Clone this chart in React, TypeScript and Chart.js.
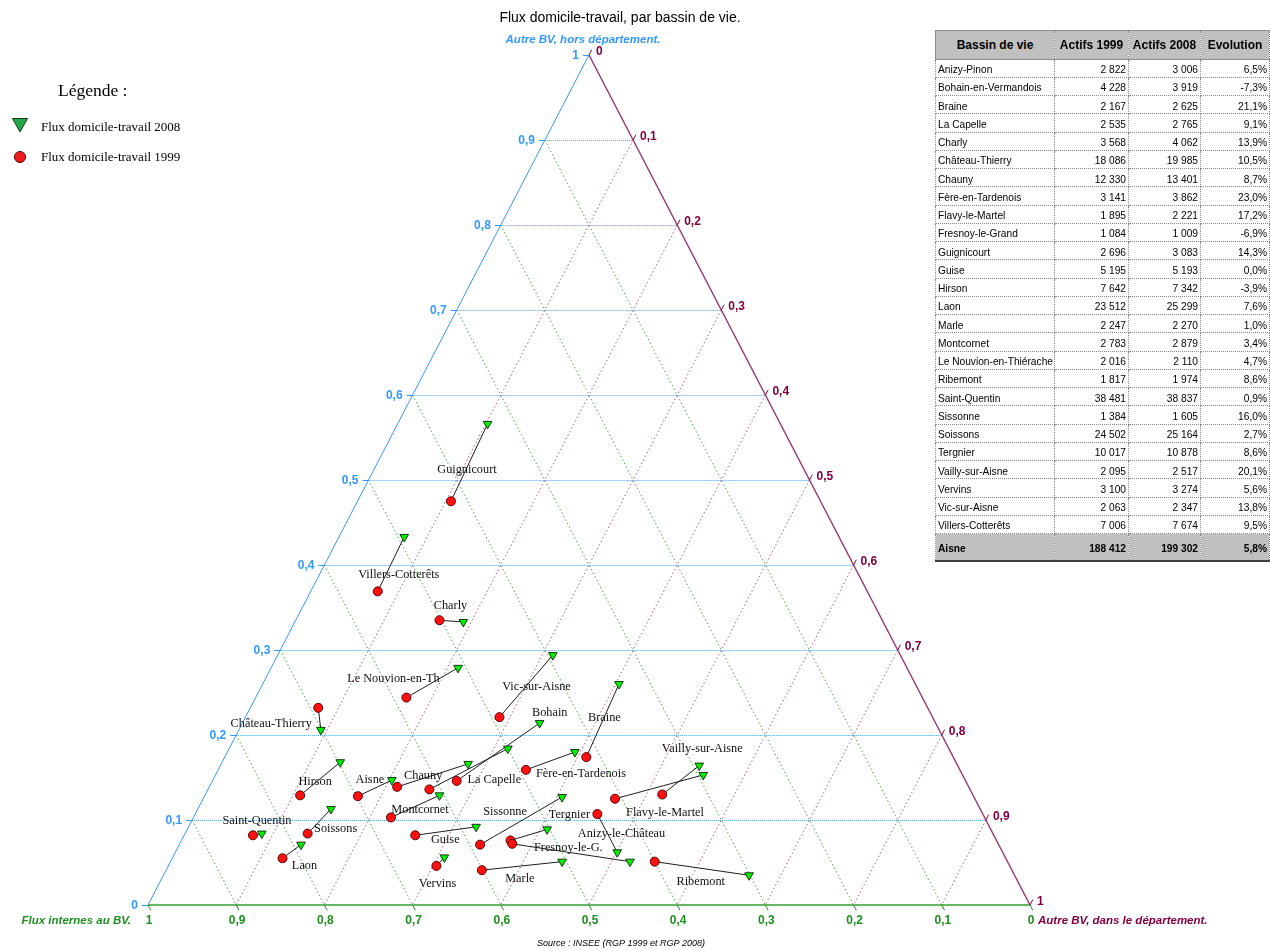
import React, { useEffect, useRef } from "react";
import { Chart, registerables } from "chart.js";

Chart.register(...registerables);

// ---------- Ternary data (shares of workers) ----------
const bassins = [
  "Guignicourt", "Villers-Cotterêts", "Charly", "Le Nouvion-en-Th", "Château-Thierry",
  "Vic-sur-Aisne", "Hirson", "Aisne", "Chauny", "La Capelle", "Bohain", "Montcornet",
  "Saint-Quentin", "Soissons", "Laon", "Guise", "Vervins", "Sissonne", "Anizy-le-Château",
  "Fresnoy-le-G.", "Marle", "Fère-en-Tardenois", "Braine", "Tergnier", "Flavy-le-Martel",
  "Vailly-sur-Aisne", "Ribemont",
];

// 1999
const horsDep1999 = [0.475, 0.369, 0.335, 0.244, 0.232, 0.221, 0.129, 0.128, 0.139, 0.136, 0.146, 0.103, 0.082, 0.084, 0.055, 0.082, 0.046, 0.071, 0.076, 0.072, 0.041, 0.159, 0.174, 0.107, 0.125, 0.130, 0.051];
const dansDep1999 = [0.106, 0.076, 0.163, 0.171, 0.077, 0.288, 0.108, 0.174, 0.213, 0.251, 0.277, 0.224, 0.078, 0.139, 0.125, 0.262, 0.304, 0.341, 0.373, 0.377, 0.358, 0.349, 0.410, 0.456, 0.467, 0.518, 0.549];
const internes1999 = [0.419, 0.555, 0.502, 0.585, 0.691, 0.491, 0.763, 0.698, 0.648, 0.613, 0.577, 0.673, 0.840, 0.777, 0.820, 0.656, 0.650, 0.588, 0.551, 0.551, 0.601, 0.492, 0.416, 0.437, 0.408, 0.352, 0.400];

// 2008
const horsDep2008 = [0.566, 0.433, 0.333, 0.279, 0.206, 0.294, 0.168, 0.147, 0.166, 0.184, 0.214, 0.129, 0.084, 0.113, 0.071, 0.092, 0.056, 0.127, 0.089, 0.051, 0.051, 0.180, 0.260, 0.062, 0.153, 0.164, 0.035];
const dansDep2008 = [0.102, 0.074, 0.191, 0.212, 0.093, 0.312, 0.134, 0.203, 0.280, 0.316, 0.337, 0.266, 0.087, 0.151, 0.138, 0.326, 0.308, 0.406, 0.408, 0.521, 0.444, 0.394, 0.404, 0.501, 0.553, 0.543, 0.664];
const internes2008 = [0.332, 0.493, 0.476, 0.509, 0.701, 0.394, 0.698, 0.650, 0.554, 0.500, 0.449, 0.605, 0.829, 0.736, 0.791, 0.582, 0.636, 0.467, 0.503, 0.428, 0.505, 0.426, 0.336, 0.437, 0.294, 0.293, 0.301];

// label placement (pixels, relative to the 1999 marker) – styling only
const labelOffsetX = [16, 21, 11, -13, -47, 37, 15, 12, 26, 65, 93, 29, 4, 28, 22, 30, 1, 25, 111, 56, 38, 55, 18, -28, 50, 40, 46];
const labelOffsetY = [-31, -17, -14, -19, 16, -30, -14, -16, -11, -10, -68, -8, -15, -5, 8, 4, 18, -33, -7, 4, 9, 4, -39, 1, 14, -46, 20];

// axis ticks
const tickValues = [0, 0.1, 0.2, 0.3, 0.4, 0.5, 0.6, 0.7, 0.8, 0.9, 1];

// ---------- Table data ----------
const tableNames = [
  "Anizy-Pinon", "Bohain-en-Vermandois", "Braine", "La Capelle", "Charly", "Château-Thierry",
  "Chauny", "Fère-en-Tardenois", "Flavy-le-Martel", "Fresnoy-le-Grand", "Guignicourt", "Guise",
  "Hirson", "Laon", "Marle", "Montcornet", "Le Nouvion-en-Thiérache", "Ribemont", "Saint-Quentin",
  "Sissonne", "Soissons", "Tergnier", "Vailly-sur-Aisne", "Vervins", "Vic-sur-Aisne", "Villers-Cotterêts",
];
const actifs1999 = [2822, 4228, 2167, 2535, 3568, 18086, 12330, 3141, 1895, 1084, 2696, 5195, 7642, 23512, 2247, 2783, 2016, 1817, 38481, 1384, 24502, 10017, 2095, 3100, 2063, 7006];
const actifs2008 = [3006, 3919, 2625, 2765, 4062, 19985, 13401, 3862, 2221, 1009, 3083, 5193, 7342, 25299, 2270, 2879, 2110, 1974, 38837, 1605, 25164, 10878, 2517, 3274, 2347, 7674];
const evolution = [6.5, -7.3, 21.1, 9.1, 13.9, 10.5, 8.7, 23.0, 17.2, -6.9, 14.3, 0.0, -3.9, 7.6, 1.0, 3.4, 4.7, 8.6, 0.9, 16.0, 2.7, 8.6, 20.1, 5.6, 13.8, 9.5];
const totalName = "Aisne";
const total1999 = 188412;
const total2008 = 199302;
const totalEvolution = 5.8;

// ---------- helpers ----------
const toXY = (interne: number, hors: number, dans: number) => {
  const s = interne + hors + dans;
  const a = hors / s;
  const c = dans / s;
  return { x: c + a / 2, y: a };
};
const fmtTick = (v: number) => (v === 0 ? "0" : v === 1 ? "1" : v.toFixed(1).replace(".", ","));
const fmtInt = (v: number) => String(v).replace(/\B(?=(\d{3})+(?!\d))/g, "\u00a0");
const fmtPct = (v: number) => v.toFixed(1).replace(".", ",") + "%";

const BLUE = "#3399ff";
const GREEN = "#1f8f1f";
const PURPLE = "#800040";

const ternaryPlugin = {
  id: "ternaryFrame",
  beforeDatasetsDraw(chart: any) {
    const ctx: CanvasRenderingContext2D = chart.ctx;
    const sx = chart.scales.x;
    const sy = chart.scales.y;
    const T = (a: number, c: number): [number, number] => [sx.getPixelForValue(c + a / 2), sy.getPixelForValue(a)];
    const seg = (p: [number, number], q: [number, number], color: string, w: number, dash: number[]) => {
      ctx.beginPath();
      ctx.strokeStyle = color;
      ctx.lineWidth = w;
      ctx.setLineDash(dash);
      ctx.moveTo(p[0], p[1]);
      ctx.lineTo(q[0], q[1]);
      ctx.stroke();
    };
    ctx.save();
    // grid
    for (let i = 1; i <= 9; i++) {
      const v = tickValues[i];
      const pa = T(v, 0);
      const pb = T(v, 1 - v);
      seg([pa[0], pa[1] + 0.5], [pb[0], pb[1] + 0.5], "rgba(51,153,255,0.9)", 1, [1, 1]);
      seg(T(1 - v, 0), T(0, 1 - v), "rgba(20,140,20,0.75)", 1, [1.5, 2.5]);
      seg(T(1 - v, v), T(0, v), "rgba(150,30,90,0.7)", 1, [1.5, 2.5]);
    }
    // edges
    seg(T(0, 0), T(1, 0), BLUE, 1, []);
    seg(T(1, 0), T(0, 1), "#993366", 1.4, []);
    seg(T(0, 0), T(0, 1), "#33a033", 1.5, []);

    // ticks
    const bottomL = T(0, 0);
    const topP = T(1, 0);
    const rightP = T(0, 1);
    const upL = [topP[0] - bottomL[0], topP[1] - bottomL[1]];
    const nL = Math.hypot(upL[0], upL[1]);
    const dR = [rightP[0] - topP[0], rightP[1] - topP[1]];
    const nR = Math.hypot(dR[0], dR[1]);
    ctx.font = 'bold 12px "Liberation Sans", Arial, sans-serif';
    tickValues.forEach((v) => {
      // left: Autre BV hors département
      const l = T(v, 0);
      seg([l[0] - 6, l[1] + 0.5], [l[0], l[1] + 0.5], BLUE, 1, []);
      ctx.fillStyle = BLUE;
      ctx.textAlign = "right";
      ctx.textBaseline = "middle";
      ctx.fillText(fmtTick(v), l[0] - 10, l[1] + 1);
      // right: Autre BV dans le département
      const r = T(1 - v, v);
      seg(r, [r[0] + (upL[0] / nL) * 6, r[1] + (upL[1] / nL) * 6], PURPLE, 1, []);
      ctx.fillStyle = PURPLE;
      ctx.textAlign = "left";
      ctx.fillText(fmtTick(v), r[0] + 7, r[1] - 3);
      // bottom: Flux internes
      const b = T(0, 1 - v);
      seg(b, [b[0] + (dR[0] / nR) * 6, b[1] + (dR[1] / nR) * 6], GREEN, 1, []);
      ctx.fillStyle = GREEN;
      ctx.textAlign = "center";
      ctx.fillText(fmtTick(v), b[0] + 1, b[1] + 16);
    });

    // axis titles
    ctx.font = 'italic bold 11.5px "Liberation Sans", Arial, sans-serif';
    ctx.fillStyle = BLUE;
    ctx.textAlign = "center";
    ctx.fillText("Autre BV, hors département.", topP[0] - 6, topP[1] - 15);
    ctx.fillStyle = GREEN;
    ctx.textAlign = "right";
    ctx.fillText("Flux internes au BV.", bottomL[0] - 17, bottomL[1] + 16);
    ctx.fillStyle = PURPLE;
    ctx.textAlign = "left";
    ctx.fillText("Autre BV, dans le département.", rightP[0] + 8, rightP[1] + 16);

    // title
    ctx.font = '14px "Liberation Sans", Arial, sans-serif';
    ctx.fillStyle = "#000";
    ctx.textAlign = "center";
    ctx.fillText("Flux domicile-travail, par bassin de vie.", 620, 18);

    // source
    ctx.font = 'italic 9px "Liberation Sans", Arial, sans-serif';
    ctx.fillText("Source : INSEE (RGP 1999 et RGP 2008)", 621, 943);

    // legend
    ctx.font = '17.5px "Liberation Serif", "Times New Roman", serif';
    ctx.textAlign = "left";
    ctx.fillText("Légende :", 58, 91);
    ctx.font = '13px "Liberation Serif", "Times New Roman", serif';
    ctx.fillText("Flux domicile-travail 2008", 41, 128);
    ctx.fillText("Flux domicile-travail 1999", 41, 158);
    ctx.setLineDash([]);
    ctx.beginPath();
    ctx.moveTo(12.5, 118.5);
    ctx.lineTo(27.5, 118.5);
    ctx.lineTo(20, 132);
    ctx.closePath();
    ctx.fillStyle = "#22a84a";
    ctx.fill();
    ctx.strokeStyle = "#1c3a1c";
    ctx.lineWidth = 1;
    ctx.stroke();
    ctx.beginPath();
    ctx.arc(20, 157, 5.5, 0, Math.PI * 2);
    ctx.fillStyle = "#ee1c1c";
    ctx.fill();
    ctx.strokeStyle = "#5a0000";
    ctx.stroke();
    ctx.restore();
  },
  afterDatasetsDraw(chart: any) {
    const ctx: CanvasRenderingContext2D = chart.ctx;
    const meta = chart.getDatasetMeta(0);
    ctx.save();
    ctx.font = '12.3px "Liberation Serif", "Times New Roman", serif';
    ctx.fillStyle = "#111";
    ctx.textAlign = "center";
    ctx.textBaseline = "middle";
    bassins.forEach((name, i) => {
      const el = meta.data[i];
      ctx.fillText(name, el.x + labelOffsetX[i], el.y + labelOffsetY[i]);
    });
    ctx.restore();
  },
};

const cellBase: React.CSSProperties = {
  borderRight: "1px dotted #8a8a8a",
  borderBottom: "1px dotted #8a8a8a",
  padding: "3px 2px 0 2px",
  whiteSpace: "nowrap",
  overflow: "hidden",
  boxSizing: "border-box",
  verticalAlign: "middle",
};

export default function App() {
  const ref = useRef<HTMLCanvasElement>(null);
  useEffect(() => {
    const canvas = ref.current!;
    const p1999 = bassins.map((_, i) => toXY(internes1999[i], horsDep1999[i], dansDep1999[i]));
    const p2008 = bassins.map((_, i) => toXY(internes2008[i], horsDep2008[i], dansDep2008[i]));
    const links = bassins.map((name, i) => ({
      label: name,
      data: [p1999[i], p2008[i]],
      showLine: true,
      borderColor: "#1e1e1e",
      borderWidth: 1,
      pointRadius: 0,
      pointHoverRadius: 0,
      clip: false as any,
    }));
    const chart = new Chart(canvas, {
      type: "scatter",
      data: {
        datasets: [
          {
            label: "Flux domicile-travail 1999",
            data: p1999,
            pointStyle: "circle",
            pointRadius: 4.5,
            backgroundColor: "#ff1010",
            borderColor: "#5a0000",
            borderWidth: 1,
            clip: false as any,
          },
          {
            label: "Flux domicile-travail 2008",
            data: p2008,
            pointStyle: "triangle",
            rotation: 180,
            pointRadius: 5,
            backgroundColor: "#00f000",
            borderColor: "#133a13",
            borderWidth: 1,
            clip: false as any,
          },
          ...links,
        ] as any,
      },
      options: {
        responsive: false,
        animation: false,
        events: [],
        layout: { padding: { left: 148, right: 240, top: 55, bottom: 46 } },
        scales: {
          x: { type: "linear", min: 0, max: 1, display: false },
          y: { type: "linear", min: 0, max: 1, display: false },
        },
        plugins: {
          legend: { display: false },
          tooltip: { enabled: false },
          title: { display: false },
        },
      },
      plugins: [ternaryPlugin],
    });
    return () => chart.destroy();
  }, []);

  const rowH = 18.25;
  const colW = [119, 74, 72, 69];
  const font = '10.2px "Liberation Sans", Arial, sans-serif';

  return (
    <div style={{ position: "absolute", left: 0, top: 0, width: 1270, height: 951, overflow: "hidden", background: "#fff" }}>
      <canvas ref={ref} width={1270} height={951} style={{ position: "absolute", left: 0, top: 0, width: 1270, height: 951 }} />
      <table
        style={{
          position: "absolute",
          left: 935,
          top: 30,
          width: 335,
          borderCollapse: "collapse",
          tableLayout: "fixed",
          font,
          color: "#000",
        }}
      >
        <colgroup>
          {colW.map((w, i) => (
            <col key={i} style={{ width: w }} />
          ))}
        </colgroup>
        <thead>
          <tr style={{ height: 28.5 }}>
            {["Bassin de vie", "Actifs 1999", "Actifs 2008", "Evolution"].map((h, i) => (
              <th
                key={h}
                style={{
                  ...cellBase,
                  padding: "1px 2px 0 2px",
                  background: "#c0c0c0",
                  borderTop: "1px solid #8c8c8c",
                  borderBottom: "1px solid #8c8c8c",
                  borderLeft: i === 0 ? "1px solid #8c8c8c" : undefined,
                  font: 'bold 12px "Liberation Sans", Arial, sans-serif',
                  textAlign: "center",
                  height: 28.5,
                }}
              >
                {h}
              </th>
            ))}
          </tr>
        </thead>
        <tbody>
          {tableNames.map((n, i) => (
            <tr key={n} style={{ height: rowH }}>
              <td style={{ ...cellBase, borderLeft: "1px dotted #8a8a8a", textAlign: "left", height: rowH }}>{n}</td>
              <td style={{ ...cellBase, textAlign: "right", height: rowH }}>{fmtInt(actifs1999[i])}</td>
              <td style={{ ...cellBase, textAlign: "right", height: rowH }}>{fmtInt(actifs2008[i])}</td>
              <td style={{ ...cellBase, textAlign: "right", height: rowH }}>{fmtPct(evolution[i])}</td>
            </tr>
          ))}
          <tr style={{ height: 27, background: "#c0c0c0", fontWeight: "bold" }}>
            <td style={{ ...cellBase, borderLeft: "1px dotted #8a8a8a", borderBottom: "2px solid #404040", textAlign: "left", height: 27 }}>{totalName}</td>
            <td style={{ ...cellBase, borderBottom: "2px solid #404040", textAlign: "right", height: 27 }}>{fmtInt(total1999)}</td>
            <td style={{ ...cellBase, borderBottom: "2px solid #404040", textAlign: "right", height: 27 }}>{fmtInt(total2008)}</td>
            <td style={{ ...cellBase, borderBottom: "2px solid #404040", textAlign: "right", height: 27 }}>{fmtPct(totalEvolution)}</td>
          </tr>
        </tbody>
      </table>
    </div>
  );
}
